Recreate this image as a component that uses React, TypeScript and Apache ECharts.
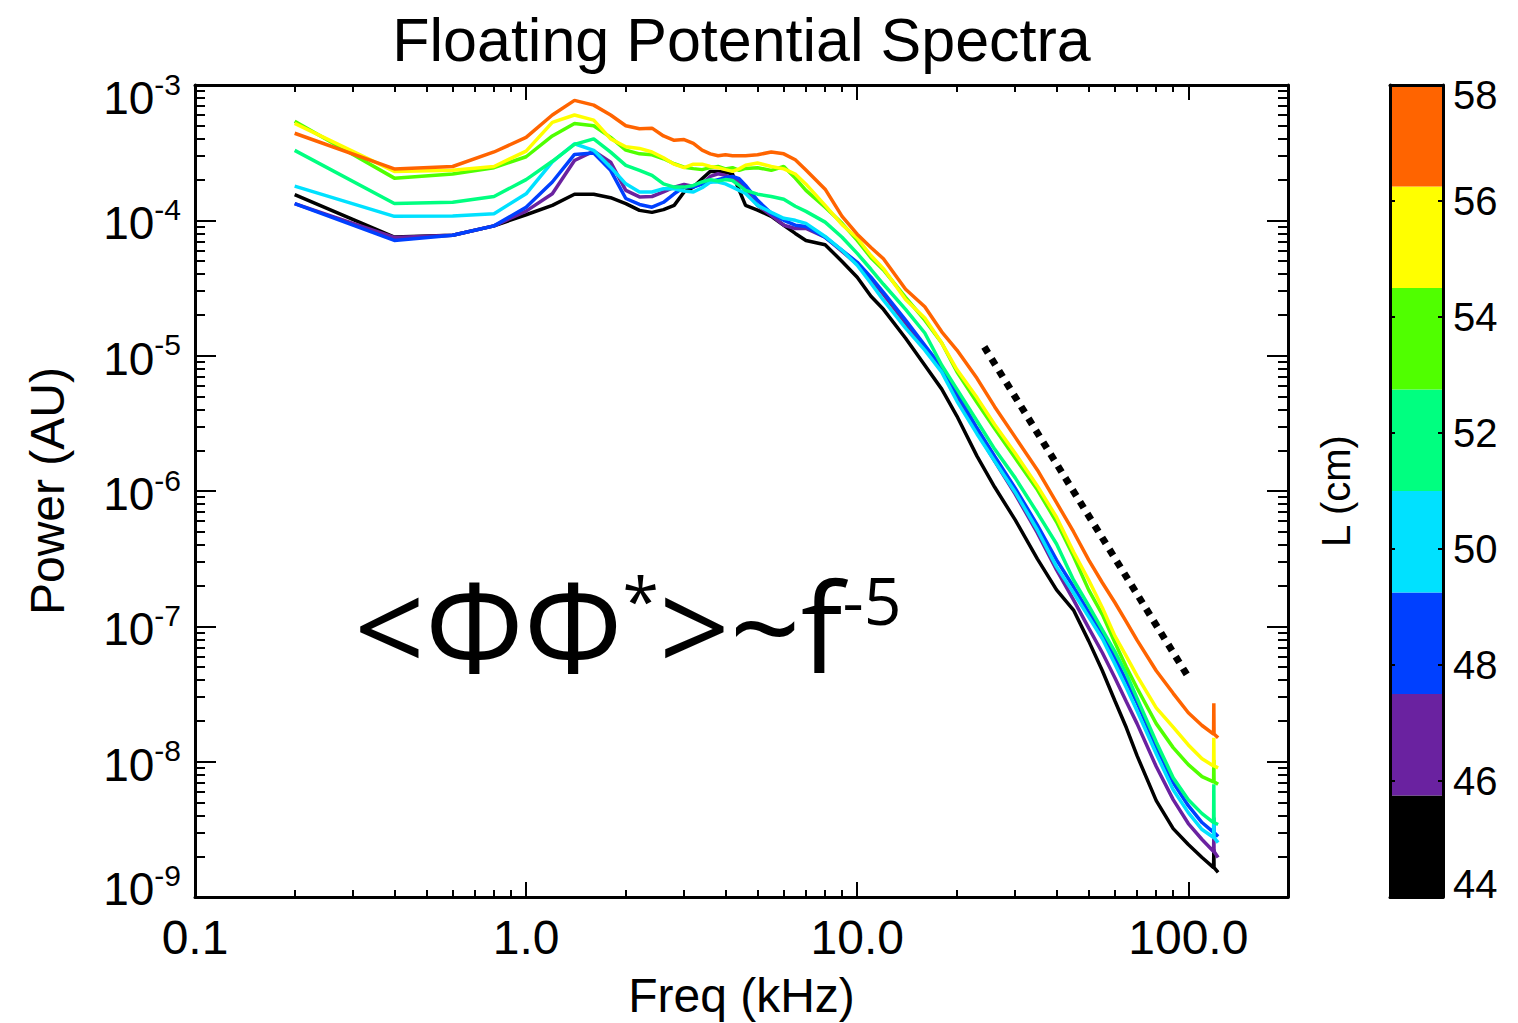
import React, { useEffect, useRef } from "react";
import * as echarts from "echarts";

// ---------- data ----------
const freqKHz = [
  0.2, 0.4, 0.6, 0.8, 1.0, 1.2, 1.4, 1.6, 1.8, 2.0, 2.2, 2.4, 2.6, 2.8, 3.0, 3.2, 3.4, 3.6, 3.8, 4.0, 4.2, 4.4, 4.6,
  5.0, 5.5, 6.0, 6.5, 7.0, 8, 9, 10, 11, 12, 14, 16, 18, 20,
  23, 26, 30, 35, 40, 45, 50, 55, 60, 65, 70, 80, 90, 100, 110, 119.2, 119.4, 119.6, 123,
];

const power44 = [
  1.55e-4, 7.52e-5, 7.75e-5, 9.1e-5, 1.1e-4, 1.29e-4, 1.56e-4, 1.56e-4, 1.47e-4, 1.33e-4, 1.185e-4, 1.145e-4, 1.2e-4, 1.29e-4, 1.62e-4, 1.76e-4, 2.03e-4, 2.3e-4, 2.3e-4, 2.27e-4, 2.2e-4, 1.67e-4, 1.29e-4,
  1.19e-4, 1.07e-4, 9.2e-5, 8.0e-5, 7.1e-5, 6.6e-5, 4.97e-5, 3.8e-5, 2.75e-5, 2.2e-5, 1.346e-5, 8.51e-6, 5.66e-6, 3.58e-6,
  1.81e-6, 1.07e-6, 6.12e-7, 3.15e-7, 1.86e-7, 1.32e-7, 7.81e-8, 4.7e-8, 2.82e-8, 1.78e-8, 1.108e-8, 5.15e-9, 3.2e-9, 2.44e-9, 1.96e-9, 1.65e-9, 2.24e-9, 1.65e-9, 1.52e-9,
];
const power46 = [
  1.33e-4, 7.47e-5, 7.75e-5, 9.1e-5, 1.17e-4, 1.57e-4, 2.77e-4, 3.25e-4, 2.69e-4, 1.665e-4, 1.49e-4, 1.5e-4, 1.62e-4, 1.76e-4, 1.845e-4, 1.78e-4, 1.86e-4, 2.11e-4, 2.21e-4, 2.15e-4, 2.07e-4, 1.92e-4, 1.665e-4,
  1.29e-4, 1.09e-4, 9.2e-5, 8.7e-5, 8.7e-5, 7.5e-5, 5.9e-5, 4.73e-5, 3.67e-5, 2.84e-5, 1.74e-5, 1.136e-5, 7.69e-6, 4.92e-6,
  2.73e-6, 1.665e-6, 9.5e-7, 4.9e-7, 2.61e-7, 1.57e-7, 9.75e-8, 6.38e-8, 4.17e-8, 2.77e-8, 1.91e-8, 9.2e-9, 5.24e-9, 3.49e-9, 2.66e-9, 2.17e-9, 2.89e-9, 2.17e-9, 1.96e-9,
];
const power48 = [
  1.33e-4, 7.1e-5, 7.75e-5, 9.1e-5, 1.25e-4, 1.92e-4, 3.07e-4, 3.14e-4, 2.34e-4, 1.45e-4, 1.31e-4, 1.25e-4, 1.36e-4, 1.57e-4, 1.76e-4, 1.76e-4, 1.86e-4, 1.92e-4, 2.0e-4, 2.07e-4, 2.11e-4, 2.03e-4, 1.81e-4,
  1.405e-4, 1.126e-4, 1.0e-4, 9.2e-5, 9.0e-5, 7.5e-5, 6.0e-5, 4.9e-5, 3.8e-5, 2.94e-5, 1.83e-5, 1.195e-5, 8.2e-6, 5.28e-6,
  2.92e-6, 1.81e-6, 1.05e-6, 5.6e-7, 3.1e-7, 1.96e-7, 1.28e-7, 8.8e-8, 5.85e-8, 3.96e-8, 2.73e-8, 1.29e-8, 7.0e-9, 4.73e-9, 3.55e-9, 3.0e-9, 3.86e-9, 3.0e-9, 2.8e-9,
];
const power50 = [
  1.79e-4, 1.07e-4, 1.075e-4, 1.12e-4, 1.57e-4, 2.7e-4, 3.68e-4, 3.29e-4, 2.47e-4, 1.86e-4, 1.62e-4, 1.62e-4, 1.71e-4, 1.71e-4, 1.645e-4, 1.62e-4, 1.74e-4, 1.92e-4, 1.92e-4, 1.86e-4, 1.76e-4, 1.665e-4, 1.58e-4,
  1.29e-4, 1.145e-4, 1.035e-4, 1.0e-4, 9.5e-5, 7.6e-5, 6.0e-5, 4.66e-5, 3.43e-5, 2.57e-5, 1.6e-5, 1.1e-5, 7.56e-6, 4.62e-6,
  2.64e-6, 1.665e-6, 9.8e-7, 5.15e-7, 2.75e-7, 1.77e-7, 1.175e-7, 8.1e-8, 5.28e-8, 3.52e-8, 2.38e-8, 1.145e-8, 6.2e-9, 4.2e-9, 3.15e-9, 2.75e-9, 3.6e-9, 2.75e-9, 2.52e-9,
];
const power52 = [
  3.29e-4, 1.33e-4, 1.36e-4, 1.5e-4, 2.0e-4, 2.73e-4, 3.64e-4, 4.0e-4, 3.19e-4, 2.55e-4, 2.34e-4, 2.15e-4, 1.86e-4, 1.76e-4, 1.76e-4, 1.81e-4, 1.92e-4, 2.0e-4, 1.95e-4, 2.0e-4, 1.97e-4, 1.81e-4, 1.665e-4,
  1.56e-4, 1.5e-4, 1.43e-4, 1.27e-4, 1.165e-4, 9.7e-5, 7.5e-5, 5.7e-5, 4.35e-5, 3.37e-5, 2.2e-5, 1.47e-5, 8.5e-6, 5.66e-6,
  3.29e-6, 2.04e-6, 1.25e-6, 6.9e-7, 4.06e-7, 2.2e-7, 1.42e-7, 9.4e-8, 6.5e-8, 4.46e-8, 2.95e-8, 1.4e-8, 7.6e-9, 5.24e-9, 4.13e-9, 3.55e-9, 6.8e-9, 3.55e-9, 3.43e-9,
];
const power54 = [
  5.4e-4, 2.05e-4, 2.2e-4, 2.45e-4, 2.95e-4, 4.2e-4, 5.2e-4, 5.0e-4, 4.1e-4, 3.3e-4, 3.1e-4, 3.05e-4, 2.85e-4, 2.62e-4, 2.47e-4, 2.41e-4, 2.37e-4, 2.45e-4, 2.5e-4, 2.4e-4, 2.45e-4, 2.34e-4, 2.42e-4,
  2.45e-4, 2.34e-4, 2.5e-4, 2.05e-4, 1.665e-4, 1.25e-4, 9.5e-5, 7.1e-5, 5.3e-5, 4.3e-5, 2.7e-5, 1.83e-5, 1.24e-5, 7.6e-6,
  4.5e-6, 2.9e-6, 1.75e-6, 1.02e-6, 5.9e-7, 3.3e-7, 1.86e-7, 1.22e-7, 7.6e-8, 5.0e-8, 3.5e-8, 1.91e-8, 1.27e-8, 9.5e-9, 7.75e-9, 7.1e-9, 1.03e-8, 7.1e-9, 6.8e-9,
];
const power56 = [
  5.2e-4, 2.3e-4, 2.34e-4, 2.5e-4, 3.25e-4, 5.3e-4, 6.0e-4, 5.5e-4, 4.0e-4, 3.5e-4, 3.4e-4, 3.2e-4, 2.9e-4, 2.6e-4, 2.45e-4, 2.6e-4, 2.6e-4, 2.5e-4, 2.45e-4, 2.37e-4, 2.3e-4, 2.4e-4, 2.55e-4,
  2.65e-4, 2.5e-4, 2.4e-4, 2.2e-4, 1.85e-4, 1.29e-4, 9.3e-5, 7.4e-5, 5.5e-5, 4.4e-5, 2.6e-5, 1.9e-5, 1.24e-5, 7.9e-6,
  4.9e-6, 3.1e-6, 1.9e-6, 1.09e-6, 6.4e-7, 3.55e-7, 2.2e-7, 1.37e-7, 8.5e-8, 6.0e-8, 4.3e-8, 2.5e-8, 1.8e-8, 1.33e-8, 1.05e-8, 9.3e-9, 1.5e-8, 9.3e-9, 9.0e-9,
];
const power58 = [
  4.4e-4, 2.4e-4, 2.5e-4, 3.2e-4, 4.1e-4, 6.0e-4, 7.7e-4, 7.1e-4, 6.0e-4, 5.0e-4, 4.75e-4, 4.8e-4, 4.2e-4, 3.9e-4, 3.95e-4, 3.7e-4, 3.3e-4, 3.1e-4, 3.0e-4, 3.05e-4, 3.0e-4, 3.0e-4, 3.0e-4,
  3.05e-4, 3.2e-4, 3.1e-4, 2.8e-4, 2.35e-4, 1.7e-4, 1.07e-4, 7.9e-5, 6.3e-5, 5.2e-5, 3.1e-5, 2.3e-5, 1.5e-5, 1.1e-5,
  6.8e-6, 4.2e-6, 2.5e-6, 1.43e-6, 8.2e-7, 5.0e-7, 3.1e-7, 2.1e-7, 1.5e-7, 1.08e-7, 7.9e-8, 4.7e-8, 3.2e-8, 2.3e-8, 1.85e-8, 1.6e-8, 2.7e-8, 1.6e-8, 1.5e-8,
];

const lengthCm = [44, 46, 48, 50, 52, 54, 56, 58];
const curvePower = [power44, power46, power48, power50, power52, power54, power56, power58];
const curveColors = ["#000000", "#6a22a0", "#0040ff", "#00e1ff", "#00ff80", "#50ff00", "#ffff00", "#ff6400"];

const colorbarMin = 44;
const colorbarMax = 58;

// f^-5 guide (dotted)
const guideFreq = [24.2, 99];
const guidePower = [1.16e-5, 4.39e-8];

const xMajorTicks = [0.1, 1, 10, 100];
const xMinorTicks = [
  0.2, 0.3, 0.4, 0.5, 0.6, 0.7, 0.8, 0.9,
  2, 3, 4, 5, 6, 7, 8, 9,
  20, 30, 40, 50, 60, 70, 80, 90,
];
const yMajorTicks = [1e-9, 1e-8, 1e-7, 1e-6, 1e-5, 1e-4, 1e-3];
const yMinorTicks = [
  2e-9, 3e-9, 4e-9, 5e-9, 6e-9, 7e-9, 8e-9, 9e-9,
  2e-8, 3e-8, 4e-8, 5e-8, 6e-8, 7e-8, 8e-8, 9e-8,
  2e-7, 3e-7, 4e-7, 5e-7, 6e-7, 7e-7, 8e-7, 9e-7,
  2e-6, 3e-6, 4e-6, 5e-6, 6e-6, 7e-6, 8e-6, 9e-6,
  2e-5, 3e-5, 4e-5, 5e-5, 6e-5, 7e-5, 8e-5, 9e-5,
  2e-4, 3e-4, 4e-4, 5e-4, 6e-4, 7e-4, 8e-4, 9e-4,
];

const FONT = '"Liberation Sans", Arial, Helvetica, sans-serif';
const ANNOT_FONT = '"Open Sans", "Noto Sans", sans-serif';

function buildOption() {
  const axisLine = { show: true, onZero: false, lineStyle: { color: "#000", width: 3 } };
  const noLine = { show: false, onZero: false };

  const logX = (position: string, ticks: number[], len: number, line: boolean, labels: boolean) => ({
    type: "log",
    logBase: 10,
    gridIndex: 0,
    position,
    min: 0.1,
    max: 200,
    axisLine: line ? axisLine : noLine,
    axisTick: { show: true, inside: true, length: len, customValues: ticks, lineStyle: { color: "#000", width: 2 } },
    axisLabel: labels
      ? {
          show: true,
          customValues: xMajorTicks,
          margin: 16,
          color: "#000",
          fontSize: 48,
          fontFamily: FONT,
          formatter: (v: number) => Number(v).toFixed(1),
        }
      : { show: false },
    splitLine: { show: false },
    minorTick: { show: false },
    z: 10,
  });

  const logY = (position: string, ticks: number[], len: number, line: boolean, labels: boolean) => ({
    type: "log",
    logBase: 10,
    gridIndex: 0,
    position,
    min: 1e-9,
    max: 1e-3,
    axisLine: line ? axisLine : noLine,
    axisTick: { show: true, inside: true, length: len, customValues: ticks, lineStyle: { color: "#000", width: 2 } },
    axisLabel: labels
      ? {
          show: true,
          customValues: yMajorTicks,
          margin: 14,
          color: "#000",
          fontSize: 46,
          fontFamily: FONT,
          formatter: (v: number) => {
            const e = Math.round(Math.log10(v));
            const tag = e === -3 ? "T" : e === -9 ? "B" : "N";
            return `{b${tag}|10}{s${tag}|${e}}`;
          },
          rich: {
            bN: { fontSize: 46, fontFamily: FONT, color: "#000", padding: [6, 0, 0, 0] },
            sN: { fontSize: 30, fontFamily: FONT, color: "#000", verticalAlign: "top" },
            bT: { fontSize: 46, fontFamily: FONT, color: "#000", padding: [26, 0, 0, 0] },
            sT: { fontSize: 30, fontFamily: FONT, color: "#000", verticalAlign: "top", padding: [20, 0, 0, 0] },
            bB: { fontSize: 46, fontFamily: FONT, color: "#000", padding: [6, 0, 22, 0] },
            sB: { fontSize: 30, fontFamily: FONT, color: "#000", verticalAlign: "top" },
          },
        }
      : { show: false },
    splitLine: { show: false },
    minorTick: { show: false },
    name: labels ? "Power (AU)" : "",
    nameLocation: "middle",
    nameGap: 124,
    nameTextStyle: { fontSize: 48, fontFamily: FONT, color: "#000" },
    z: 10,
  });

  const xAxis: any[] = [
    {
      ...logX("bottom", xMajorTicks, 15, true, true),
      name: "Freq (kHz)",
      nameLocation: "middle",
      nameGap: 74,
      nameTextStyle: { fontSize: 48, fontFamily: FONT, color: "#000" },
    },
    logX("bottom", xMinorTicks, 7, false, false),
    logX("top", xMajorTicks, 15, true, false),
    logX("top", xMinorTicks, 7, false, false),
    {
      type: "category",
      gridIndex: 1,
      position: "bottom",
      data: ["L"],
      axisLine,
      axisTick: { show: false },
      axisLabel: { show: false },
      z: 10,
    },
    {
      type: "category",
      gridIndex: 1,
      position: "top",
      data: ["L"],
      axisLine,
      axisTick: { show: false },
      axisLabel: { show: false },
      z: 10,
    },
  ];

  const yAxis: any[] = [
    logY("left", yMajorTicks, 21, true, true),
    logY("left", yMinorTicks, 10, false, false),
    logY("right", yMajorTicks, 21, true, false),
    logY("right", yMinorTicks, 10, false, false),
    {
      type: "value",
      gridIndex: 1,
      position: "right",
      min: colorbarMin,
      max: colorbarMax,
      interval: 2,
      axisLine,
      axisTick: { show: true, inside: true, length: 5, lineStyle: { color: "#000", width: 2 } },
      axisLabel: {
        show: true,
        margin: 10,
        color: "#000",
        fontSize: 40,
        fontFamily: FONT,
        formatter: (v: number) => (v === colorbarMax ? `{t|${v}}` : v === colorbarMin ? `{b|${v}}` : `{n|${v}}`),
        rich: {
          n: { fontSize: 40, fontFamily: FONT, color: "#000" },
          t: { fontSize: 40, fontFamily: FONT, color: "#000", padding: [20, 0, 0, 0] },
          b: { fontSize: 40, fontFamily: FONT, color: "#000", padding: [0, 0, 26, 0] },
        },
      },
      splitLine: { show: false },
      z: 10,
    },
    {
      type: "value",
      gridIndex: 1,
      position: "left",
      min: colorbarMin,
      max: colorbarMax,
      interval: 2,
      axisLine,
      axisTick: { show: true, inside: true, length: 5, lineStyle: { color: "#000", width: 2 } },
      axisLabel: { show: false },
      splitLine: { show: false },
      name: "L (cm)",
      nameLocation: "middle",
      nameGap: 34,
      nameTextStyle: { fontSize: 40, fontFamily: FONT, color: "#000" },
      z: 10,
    },
  ];

  const curveSeries = lengthCm.map((L, i) => ({
    type: "line",
    name: `L = ${L} cm`,
    xAxisIndex: 0,
    yAxisIndex: 0,
    showSymbol: false,
    symbol: "none",
    silent: true,
    lineStyle: { color: curveColors[i], width: 3.5 },
    data: freqKHz.map((f, k) => [f, curvePower[i][k]]),
    z: 3 + i * 0.01,
  }));

  const guideSeries = {
    type: "line",
    name: "f^-5",
    xAxisIndex: 0,
    yAxisIndex: 0,
    showSymbol: false,
    symbol: "none",
    silent: true,
    lineStyle: { color: "#000", width: 7, type: [7, 7], cap: "butt" },
    data: guideFreq.map((f, k) => [f, guidePower[k]]),
    z: 4,
  };

  const bandStep = (colorbarMax - colorbarMin) / lengthCm.length;
  const bandSeries = lengthCm.map((L, i) => ({
    type: "bar",
    name: `band ${L}`,
    xAxisIndex: 4,
    yAxisIndex: 4,
    stack: "colorbar",
    barWidth: "100%",
    silent: true,
    itemStyle: { color: curveColors[i] },
    data: [i === 0 ? colorbarMin + bandStep : bandStep],
  }));

  return {
    animation: false,
    backgroundColor: "#ffffff",
    grid: [
      { left: 195, top: 85, width: 1093, height: 812, outerBoundsMode: "none", containLabel: false },
      { left: 1390, top: 85, width: 53, height: 812, outerBoundsMode: "none", containLabel: false },
    ],
    xAxis,
    yAxis,
    series: [...curveSeries, guideSeries, ...bandSeries],
    graphic: [
      {
        type: "text",
        x: 741.5,
        y: 40,
        style: {
          text: "Floating Potential Spectra",
          fontSize: 61,
          fontFamily: FONT,
          fill: "#000",
          align: "center",
          verticalAlign: "middle",
        },
      },
      {
        type: "text",
        x: 354,
        y: 624,
        style: {
          text: "{m|<ΦΦ}{s|*}{m|>~f}{s|-5}",
          verticalAlign: "middle",
          align: "left",
          rich: {
            m: { fontSize: 124, fontFamily: ANNOT_FONT, fill: "#000", color: "#000" },
            s: { fontSize: 66, fontFamily: ANNOT_FONT, fill: "#000", color: "#000", verticalAlign: "top", padding: [4, 0, 0, 0] },
          },
        },
      },
    ],
  };
}

export default function App() {
  const ref = useRef<HTMLDivElement>(null);
  useEffect(() => {
    if (!ref.current) return;
    const chart = echarts.init(ref.current, undefined, { renderer: "svg" });
    chart.setOption(buildOption() as any);
    return () => chart.dispose();
  }, []);
  return (
    <div
      ref={ref}
      style={{ position: "fixed", left: 0, top: 0, width: 1518, height: 1023, background: "#fff" }}
    />
  );
}
